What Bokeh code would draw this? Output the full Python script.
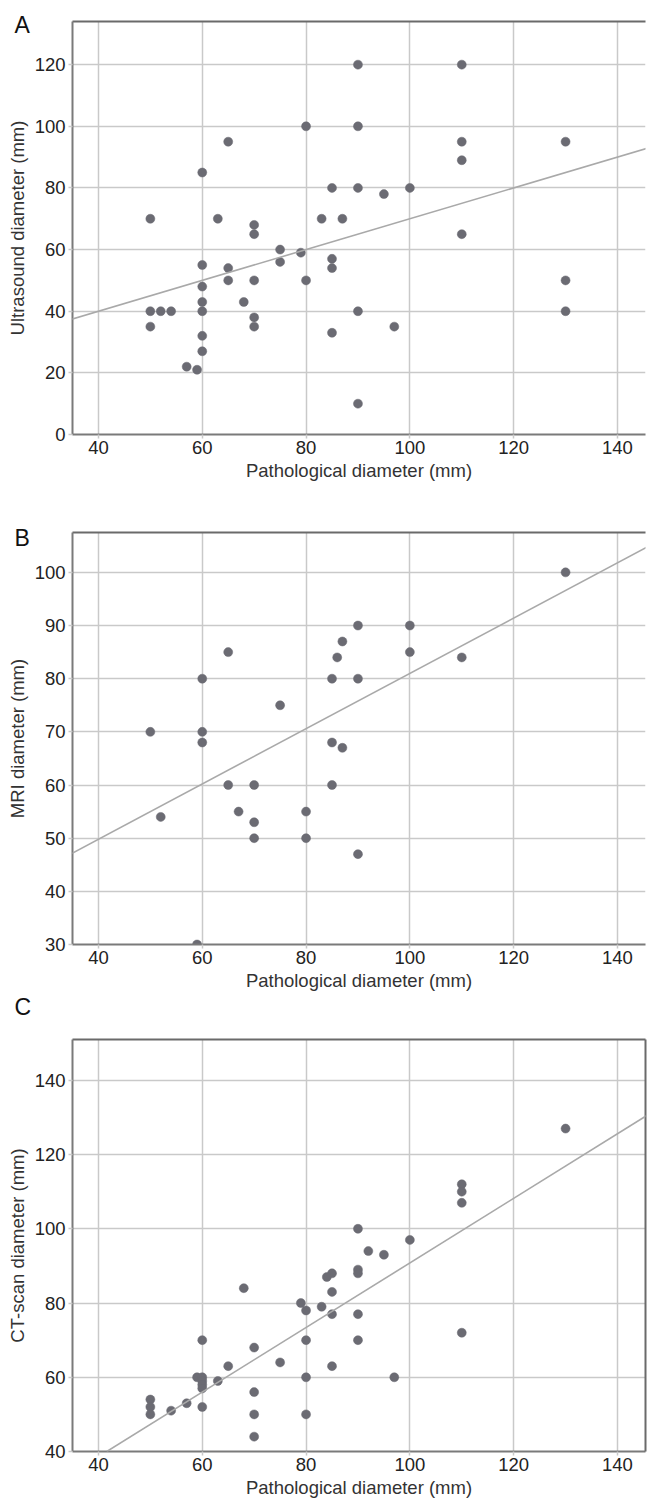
from bokeh.plotting import figure
from bokeh.layouts import column
from bokeh.models import Range1d, FixedTicker, LinearAxis, Slope, Title
from bokeh.embed import file_html
from bokeh.resources import INLINE

# ---------------- data ----------------
# Panel A: pathological vs ultrasound diameter (mm)
path_a = [90, 110, 80, 90, 65, 110, 130, 110, 60, 85, 90, 100, 95, 50, 63, 83, 87,
          70, 70, 110, 75, 75, 79, 85, 60, 85, 65, 65, 70, 80, 130, 60, 68, 60, 50,
          52, 54, 60, 90, 130, 70, 70, 50, 97, 85, 60, 60, 57, 59, 90]
us_a = [120, 120, 100, 100, 95, 95, 95, 89, 85, 80, 80, 80, 78, 70, 70, 70, 70,
        68, 65, 65, 60, 56, 59, 57, 55, 54, 54, 50, 50, 50, 50, 48, 43, 43, 40,
        40, 40, 40, 40, 40, 38, 35, 35, 35, 33, 32, 27, 22, 21, 10]

# Panel B: pathological vs MRI diameter (mm)
path_b = [130, 90, 100, 87, 65, 100, 86, 110, 60, 85, 90, 75, 50, 60, 60, 85, 87,
          65, 70, 85, 67, 80, 52, 70, 70, 80, 90, 59]
mri_b = [100, 90, 90, 87, 85, 85, 84, 84, 80, 80, 80, 75, 70, 70, 68, 68, 67,
         60, 60, 60, 55, 55, 54, 53, 50, 50, 47, 30]

# Panel C: pathological vs CT-scan diameter (mm)
path_c = [130, 110, 110, 110, 90, 100, 92, 95, 90, 90, 85, 84, 68, 85, 79, 83, 80,
          85, 90, 60, 80, 90, 110, 70, 75, 65, 85, 80, 97, 59, 60, 60, 60, 60, 63,
          70, 50, 50, 50, 54, 57, 60, 70, 80, 70]
ct_c = [127, 112, 110, 107, 100, 97, 94, 93, 89, 88, 88, 87, 84, 83, 80, 79, 78,
        77, 77, 70, 70, 70, 72, 68, 64, 63, 63, 60, 60, 60, 60, 59, 58, 57, 59,
        56, 54, 52, 50, 51, 53, 52, 50, 50, 44]

# fitted regression lines (slope, intercept)
fit_a = (0.50, 20.0)
fit_b = (0.52, 29.0)
fit_c = (0.87, 3.8)

x_ticks = [40, 60, 80, 100, 120, 140]
y_ticks_a = [0, 20, 40, 60, 80, 100, 120]
y_ticks_b = [30, 40, 50, 60, 70, 80, 90, 100]
y_ticks_c = [40, 60, 80, 100, 120, 140]

x_title = "Pathological diameter (mm)"
y_title_a = "Ultrasound diameter (mm)"
y_title_b = "MRI diameter (mm)"
y_title_c = "CT-scan diameter (mm)"

FONT = "Liberation Sans"
AXIS_COL = "#7a7a7a"
GRID_COL = "#c9c9c9"
DOT_COL = "#6b6b73"
LINE_COL = "#a9a9a9"


def letter_title(letter, standoff, valign):
    return Title(text=letter, align="left", offset=-58, standoff=standoff,
                 vertical_align=valign, text_font=FONT, text_font_size="23px",
                 text_font_style="normal", text_color="#111111")


def make_panel(xs, ys, y_range, y_ticks, y_title, fit, height,
               top, bottom, right_border):
    p = figure(width=647, height=height, title=None,
               x_range=Range1d(35, 145.4), y_range=Range1d(*y_range),
               output_backend="svg", toolbar_location=None,
               min_border_left=72, min_border_right=2,
               min_border_top=top, min_border_bottom=bottom)
    p.outline_line_color = None
    p.background_fill_color = "white"
    p.border_fill_color = "white"

    for ax in (p.xaxis[0], p.yaxis[0]):
        ax.axis_line_color = AXIS_COL
        ax.axis_line_width = 2
        ax.major_tick_line_color = GRID_COL
        ax.major_tick_line_width = 1.5
        ax.major_tick_out = 4
        ax.major_tick_in = 0
        ax.minor_tick_line_color = None
        ax.major_label_text_font = FONT
        ax.major_label_text_font_size = "18.5px"
        ax.major_label_text_color = "#222222"
        ax.axis_label_text_font = FONT
        ax.axis_label_text_font_size = "18.5px"
        ax.axis_label_text_font_style = "normal"
        ax.axis_label_text_color = "#333333"

    p.xaxis[0].ticker = FixedTicker(ticks=x_ticks)
    p.yaxis[0].ticker = FixedTicker(ticks=y_ticks)
    p.xaxis[0].axis_label = x_title
    p.yaxis[0].axis_label = y_title
    p.xaxis[0].major_label_standoff = 2
    p.xaxis[0].axis_label_standoff = 3
    p.yaxis[0].major_label_standoff = 3
    p.yaxis[0].axis_label_standoff = 4

    p.xgrid.ticker = FixedTicker(ticks=x_ticks)
    p.ygrid.ticker = FixedTicker(ticks=y_ticks)
    p.grid.grid_line_color = GRID_COL
    p.grid.grid_line_width = 1.5

    sides = ["above"] + (["right"] if right_border else [])
    for side in sides:
        b = LinearAxis(ticker=FixedTicker(ticks=[]))
        b.axis_line_color = "#6a6a6a"
        b.axis_line_width = 2
        b.major_tick_line_color = None
        b.minor_tick_line_color = None
        b.major_tick_out = 0
        b.major_tick_in = 0
        b.major_label_standoff = 0
        b.axis_label_standoff = 0
        b.major_label_text_font_size = "0px"
        p.add_layout(b, side)

    p.add_layout(Slope(gradient=fit[0], y_intercept=fit[1],
                       line_color=LINE_COL, line_width=1.6))

    p.scatter(xs, ys, size=9, fill_color=DOT_COL, line_color=DOT_COL,
              line_width=0.5)
    return p


pa = make_panel(path_a, us_a, (0, 134), y_ticks_a, y_title_a, fit_a,
                490, 21, 56, False)
pa.add_layout(letter_title("A", -32, "bottom"), "above")

pb = make_panel(path_b, mri_b, (30, 107.5), y_ticks_b, y_title_b, fit_b,
                534, 42, 80, False)
pb.add_layout(letter_title("B", -36, "bottom"), "above")
# panel letter "C" sits in the gap under panel B's axis title
pb.add_layout(letter_title("C", 0, "top"), "below")

pc = make_panel(path_c, ct_c, (40, 151), y_ticks_c, y_title_c, fit_c,
                480, 15, 53, True)

layout = column(pa, pb, pc, spacing=0)
open("out.html", "w").write(file_html(layout, INLINE))
